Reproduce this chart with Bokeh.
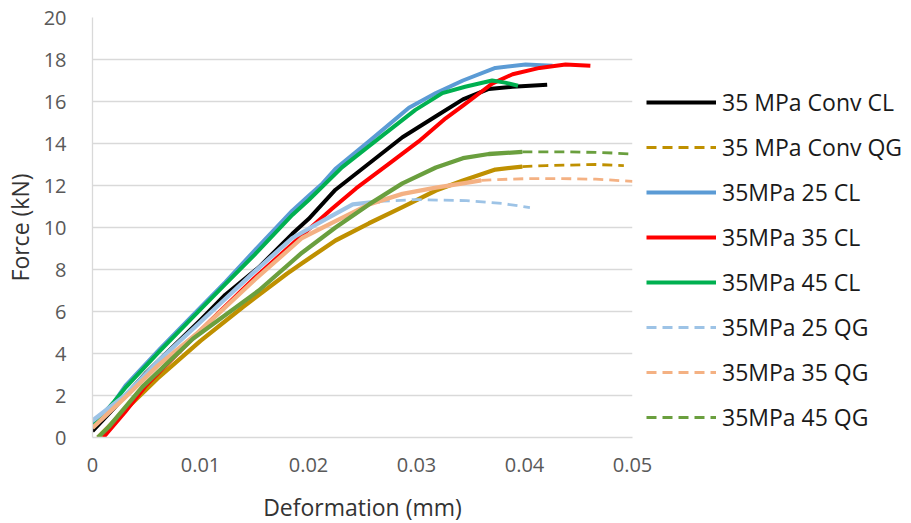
from bokeh.plotting import figure
from bokeh.models import Legend, LegendItem, FixedTicker, Range1d
from bokeh.embed import file_html
from bokeh.resources import INLINE

# Load-deformation curves, deformation in mm, force in kN
conv_cl_x = [0.0, 0.002, 0.005, 0.010, 0.0123, 0.0154, 0.0185, 0.0200, 0.0225, 0.0256, 0.0287, 0.0318, 0.0343, 0.0367, 0.0389, 0.0421]
conv_cl_y = [0.3, 1.4, 3.1, 5.6, 6.8, 8.1, 9.7, 10.4, 11.8, 13.05, 14.3, 15.3, 16.1, 16.6, 16.7, 16.8]

conv_qg_x = [0.0005, 0.003, 0.006, 0.010, 0.0139, 0.0180, 0.0194, 0.0225, 0.0256, 0.0287, 0.0318, 0.0343, 0.0373, 0.0398, 0.0420, 0.0466, 0.0492]
conv_qg_y = [0.0, 1.3, 2.8, 4.6, 6.2, 7.8, 8.3, 9.38, 10.2, 10.97, 11.76, 12.24, 12.76, 12.9, 12.95, 13.0, 12.95]

cl25_x = [0.0, 0.002, 0.0031, 0.0062, 0.010, 0.0123, 0.015, 0.0185, 0.020, 0.0213, 0.0225, 0.0256, 0.0293, 0.0318, 0.0343, 0.0373, 0.0401, 0.0426]
cl25_y = [0.6, 1.7, 2.5, 4.2, 6.2, 7.4, 8.9, 10.8, 11.5, 12.1, 12.8, 14.1, 15.7, 16.4, 17.0, 17.6, 17.76, 17.7]

cl35_x = [0.001, 0.003, 0.005, 0.010, 0.015, 0.020, 0.0222, 0.0244, 0.0275, 0.0302, 0.0327, 0.0343, 0.0361, 0.0370, 0.0389, 0.0414, 0.0438, 0.0461]
cl35_y = [0.0, 1.2, 2.5, 5.1, 7.6, 9.9, 10.9, 11.86, 13.05, 14.1, 15.2, 15.8, 16.5, 16.85, 17.3, 17.6, 17.76, 17.7]

cl45_x = [0.0, 0.002, 0.0031, 0.0062, 0.010, 0.0123, 0.015, 0.0185, 0.020, 0.0231, 0.0269, 0.0299, 0.0324, 0.0345, 0.0370, 0.0382, 0.0394]
cl45_y = [0.5, 1.7, 2.4, 4.1, 6.1, 7.3, 8.7, 10.6, 11.3, 12.86, 14.4, 15.6, 16.4, 16.7, 17.0, 16.9, 16.75]

qg25_x = [0.0, 0.003, 0.0062, 0.010, 0.015, 0.0185, 0.0216, 0.0241, 0.0266, 0.0299, 0.0346, 0.0380, 0.0405]
qg25_y = [0.8, 2.0, 3.7, 5.5, 7.9, 9.5, 10.4, 11.1, 11.24, 11.33, 11.28, 11.14, 10.95]

qg35_x = [0.0, 0.003, 0.006, 0.010, 0.015, 0.0194, 0.0225, 0.0256, 0.0287, 0.0318, 0.0343, 0.0360, 0.0373, 0.0404, 0.0435, 0.0466, 0.0500]
qg35_y = [0.45, 1.9, 3.4, 5.1, 7.5, 9.5, 10.3, 11.1, 11.6, 11.9, 12.1, 12.24, 12.28, 12.33, 12.33, 12.3, 12.2]

qg45_x = [0.0005, 0.0015, 0.0046, 0.0093, 0.0154, 0.0194, 0.0225, 0.0256, 0.0287, 0.0318, 0.0343, 0.0367, 0.0398, 0.0441, 0.0472, 0.0500]
qg45_y = [0.0, 0.5, 2.4, 4.7, 7.0, 8.8, 10.0, 11.1, 12.1, 12.86, 13.3, 13.5, 13.6, 13.6, 13.57, 13.5]

series_names = ["35 MPa Conv CL", "35 MPa Conv QG", "35MPa 25 CL", "35MPa 35 CL",
                "35MPa 45 CL", "35MPa 25 QG", "35MPa 35 QG", "35MPa 45 QG"]

x_ticks = [0.0, 0.01, 0.02, 0.03, 0.04, 0.05]
x_tick_labels = ["0", "0.01", "0.02", "0.03", "0.04", "0.05"]
y_ticks = [0, 2, 4, 6, 8, 10, 12, 14, 16, 18, 20]

# name -> (x, y, colour, dashed)
styles = {
    "35 MPa Conv CL": (conv_cl_x, conv_cl_y, "#000000", False),
    "35 MPa Conv QG": (conv_qg_x, conv_qg_y, "#BF9000", True),
    "35MPa 25 CL": (cl25_x, cl25_y, "#5B9BD5", False),
    "35MPa 35 CL": (cl35_x, cl35_y, "#FF0000", False),
    "35MPa 45 CL": (cl45_x, cl45_y, "#00B050", False),
    "35MPa 25 QG": (qg25_x, qg25_y, "#9DC3E6", True),
    "35MPa 35 QG": (qg35_x, qg35_y, "#F4B183", True),
    "35MPa 45 QG": (qg45_x, qg45_y, "#6A9F3E", True),
}
# the dense, noisy rising part of each dashed record reads as a solid band
solid_until = {"35 MPa Conv QG": 0.0398, "35MPa 25 QG": 0.027,
               "35MPa 35 QG": 0.0360, "35MPa 45 QG": 0.0398}

FONT = "Open Sans"

p = figure(frame_width=540, frame_height=420, output_backend="svg", toolbar_location=None,
           x_range=Range1d(0, 0.05), y_range=Range1d(0, 20),
           min_border_left=90, min_border_right=281, min_border_top=17, min_border_bottom=86,
           x_axis_label="Deformation (mm)", y_axis_label="Force (kN)")
p.outline_line_color = None
p.background_fill_color = "white"
p.border_fill_color = "white"
p.xgrid.visible = False
p.ygrid.grid_line_color = "#D9D9D9"
p.ygrid.grid_line_width = 1.3

p.xaxis.ticker = FixedTicker(ticks=x_ticks)
p.xaxis.major_label_overrides = dict(zip(x_ticks, x_tick_labels))
p.yaxis.ticker = FixedTicker(ticks=y_ticks)

for ax in (p.xaxis[0], p.yaxis[0]):
    ax.axis_line_color = "#D9D9D9"
    ax.axis_line_width = 1.3
    ax.major_tick_line_color = None
    ax.minor_tick_line_color = None
    ax.major_label_text_font = FONT
    ax.major_label_text_font_size = "20px"
    ax.major_label_text_color = "#595959"
    ax.axis_label_text_font = FONT
    ax.axis_label_text_font_size = "23px"
    ax.axis_label_text_font_style = "normal"
    ax.axis_label_text_color = "#333333"
p.xaxis.major_label_standoff = 14
p.xaxis.axis_label_standoff = 16
p.yaxis.major_label_standoff = 20
p.yaxis.axis_label_standoff = 5

items = []
for name in series_names:
    xs, ys, color, dashed = styles[name]
    if not dashed:
        r = p.line(xs, ys, line_color=color, line_width=4, line_join="round")
        items.append(LegendItem(label=name, renderers=[r]))
    else:
        cut = max(i for i, v in enumerate(xs) if v <= solid_until[name])
        p.line(xs[:cut + 1], ys[:cut + 1], line_color=color, line_width=4.3, line_join="round")
        r = p.line(xs[cut:], ys[cut:], line_color=color, line_width=2.8,
                   line_dash="10 6")
        items.append(LegendItem(label=name, renderers=[r]))

legend = Legend(items=items, location=(14, 4), orientation="vertical",
                glyph_width=70, glyph_height=30, label_height=30, spacing=13,
                padding=0, margin=0, label_standoff=6,
                border_line_color=None, background_fill_alpha=0,
                label_text_font=FONT, label_text_font_size="23px",
                label_text_color="#1a1a1a")
p.add_layout(legend, "right")

open("out.html", "w").write(file_html(p, INLINE))
